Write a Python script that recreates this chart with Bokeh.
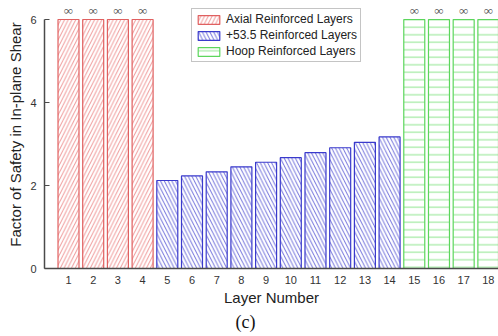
import numpy as np
from bokeh.plotting import figure
from bokeh.models import ColumnDataSource, LabelSet, Title, FixedTicker, Range1d
from bokeh.embed import file_html
from bokeh.resources import INLINE

# ---- data ----
layers = list(range(1, 19))
fos = [np.inf, np.inf, np.inf, np.inf,
       2.12, 2.23, 2.33, 2.45, 2.56, 2.67, 2.79, 2.91, 3.04, 3.17,
       np.inf, np.inf, np.inf, np.inf]
groups = ["Axial Reinforced Layers"] * 4 + ["+53.5 Reinforced Layers"] * 10 + ["Hoop Reinforced Layers"] * 4
y_ticks = [0, 2, 4, 6]
y_max = 6

group_style = {
    "Axial Reinforced Layers": dict(color="#e06060", hatch_color="#f09a9a", hatch="/"),
    "+53.5 Reinforced Layers": dict(color="#3a3acc", hatch_color="#7474dc", hatch="\\"),
    "Hoop Reinforced Layers": dict(color="#5cd65c", hatch_color="#8ee48e", hatch="-"),
}

p = figure(width=498, height=336, output_backend="svg", toolbar_location=None,
           x_range=Range1d(0.028, 18.41), y_range=Range1d(0, 6.458),
           min_border_left=44, min_border_right=0, min_border_top=0, min_border_bottom=68)

for g, st in group_style.items():
    xs = [l for l, gg in zip(layers, groups) if gg == g]
    tops = [min(v, y_max) for v, gg in zip(fos, groups) if gg == g]
    src = ColumnDataSource(dict(x=xs, top=tops))
    p.vbar(x="x", top="top", bottom=0, width=0.85, source=src,
           fill_color="white", line_color=st["color"], line_width=1.2,
           hatch_pattern=st["hatch"], hatch_color=st["hatch_color"], hatch_scale=7.5,
           hatch_weight=1, legend_label=g)

# infinity labels above the capped bars
inf_x = [l for l, v in zip(layers, fos) if np.isinf(v)]
inf_src = ColumnDataSource(dict(x=inf_x, y=[y_max] * len(inf_x), t=["∞"] * len(inf_x)))
p.add_layout(LabelSet(x="x", y="y", text="t", source=inf_src, y_offset=9,
                      text_align="center", text_baseline="middle",
                      text_font="DejaVu Sans", text_font_size="13px", text_color="#555555"))

p.xgrid.visible = False
p.ygrid.visible = False
p.outline_line_color = None

p.xaxis.ticker = FixedTicker(ticks=layers)
p.yaxis.ticker = FixedTicker(ticks=y_ticks)
p.yaxis.bounds = (0, y_max)
for ax in (p.xaxis, p.yaxis):
    ax.axis_line_color = "#4a4a4a"
    ax.axis_line_width = 1.5
    ax.major_tick_line_color = "#4a4a4a"
    ax.minor_tick_line_color = None
    ax.major_label_text_font = "Liberation Sans"
    ax.major_label_text_font_size = "11px"
    ax.major_label_text_color = "#333333"
    ax.axis_label_text_font = "Liberation Sans"
    ax.axis_label_text_font_size = "15px"
    ax.axis_label_text_font_style = "normal"
    ax.axis_label_text_color = "#222222"

p.xaxis.major_tick_in = 0
p.xaxis.major_tick_out = 0
p.xaxis.major_label_standoff = 7
p.xaxis.axis_label = "Layer Number"
p.xaxis.axis_label_standoff = 2

p.yaxis.major_tick_in = 5
p.yaxis.major_tick_out = 0
p.yaxis.major_label_standoff = 8
p.yaxis.axis_label = "Factor of Safety in In-plane Shear"
p.yaxis.axis_label_standoff = 3

p.add_layout(Title(text="(c)", align="left", offset=191, standoff=2,
                   text_font="Liberation Serif", text_font_size="18px",
                   text_font_style="normal", text_color="#111111"), "below")

lg = p.legend[0]
lg.location = (147, 206)
lg.label_text_font = "Liberation Sans"
lg.label_text_font_size = "12px"
lg.label_text_color = "#222222"
lg.glyph_width = 27
lg.glyph_height = 11
lg.label_height = 13
lg.label_standoff = 4
lg.spacing = 2
lg.padding = 3
lg.margin = 0
lg.border_line_color = "#8a8a8a"
lg.background_fill_color = "white"

open("out.html", "w").write(file_html(p, INLINE))
